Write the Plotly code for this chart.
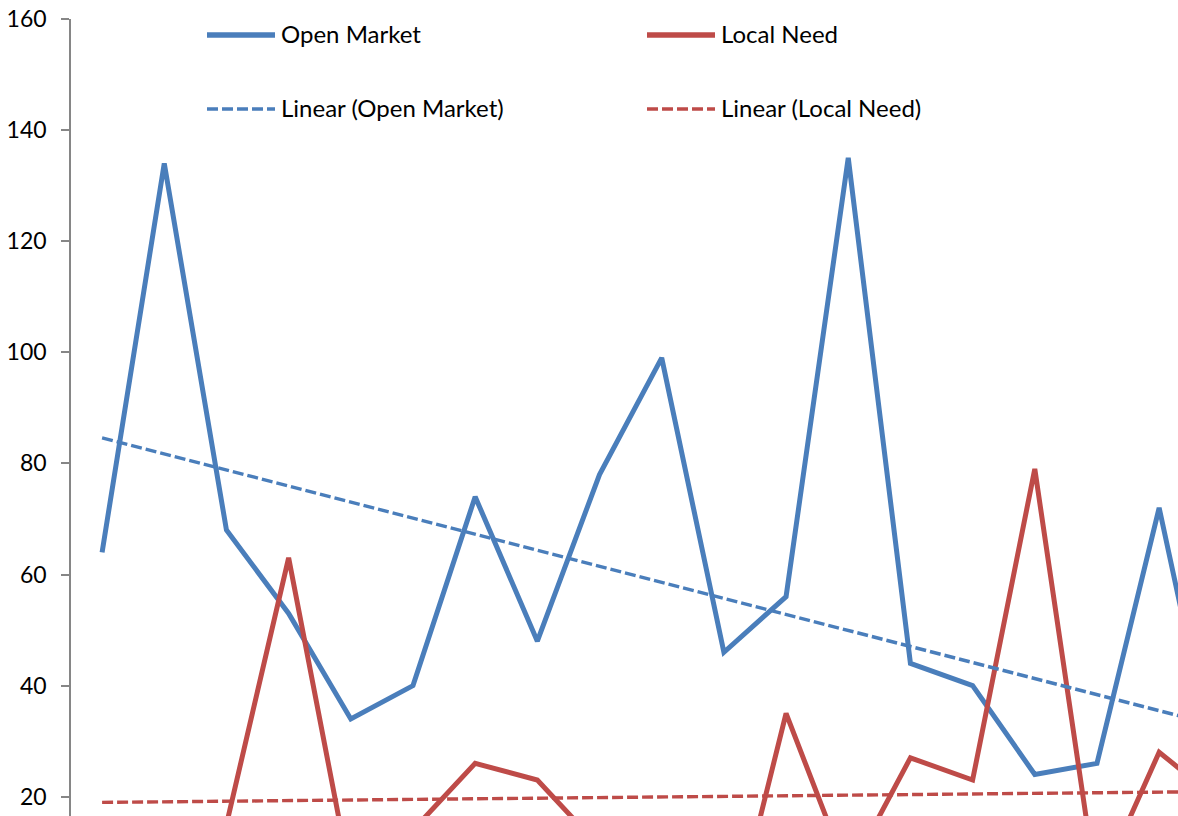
import plotly.graph_objects as go

# ---- data ----
periods = list(range(19))
open_market = [64, 134, 68, 53, 34, 40, 74, 48, 78, 99, 46, 56, 135, 44, 40, 24, 26, 72, 20]
local_need = [8, 10, 15, 63, 5, 14, 26, 23, 11, 5, -10, 35, 6, 27, 23, 79, 3, 28, 19]
trend_periods = [0, 18]
trend_open = [84.6, 32.6]
trend_local = [18.97, 20.93]

series_names = ["Open Market", "Local Need", "Linear (Open Market)", "Linear (Local Need)"]
BLUE = "#4A7EBB"
RED = "#BE4B48"
FONT = "Lato"

W, H = 1178, 816
ML, MT = 71, 19
PX_PER_UNIT = 5.555
plot_h = H - MT
y_top = 160
y_bottom = y_top - plot_h / PX_PER_UNIT
cat_w = 62.18
x_lo = -0.5
x_hi = (W - ML) / cat_w - 0.5

fig = go.Figure()
fig.add_trace(go.Scatter(x=periods, y=open_market, mode="lines", name=series_names[0],
                         line=dict(color=BLUE, width=5), showlegend=False))
fig.add_trace(go.Scatter(x=periods, y=local_need, mode="lines", name=series_names[1],
                         line=dict(color=RED, width=5), showlegend=False))
fig.add_trace(go.Scatter(x=trend_periods, y=trend_open, mode="lines", name=series_names[2],
                         line=dict(color=BLUE, width=3.4, dash="11px,4px"), showlegend=False))
fig.add_trace(go.Scatter(x=trend_periods, y=trend_local, mode="lines", name=series_names[3],
                         line=dict(color=RED, width=3.4, dash="11px,4px"), showlegend=False))

# ---- manual legend (pixel positions converted to paper coords) ----
def px(xp):
    return (xp - ML) / (W - ML)

def py(yp):
    return (H - yp) / plot_h

legend_items = [
    (207, 275, 35, BLUE, "solid", 5.5, series_names[0]),
    (647, 715, 35, RED, "solid", 5.5, series_names[1]),
    (207, 275, 109, BLUE, "11px,4px", 3.4, series_names[2]),
    (647, 715, 109, RED, "11px,4px", 3.4, series_names[3]),
]
for x0, x1, yy, col, dash, w, label in legend_items:
    fig.add_shape(type="line", xref="paper", yref="paper",
                  x0=px(x0), x1=px(x1), y0=py(yy), y1=py(yy),
                  line=dict(color=col, width=w, dash=dash))
    fig.add_annotation(xref="paper", yref="paper", x=px(x1 + 4), y=py(yy - 1.5),
                       text=label, showarrow=False, xanchor="left", yanchor="middle",
                       font=dict(family=FONT, size=24, color="#000000"))

fig.update_layout(
    width=W, height=H,
    margin=dict(l=ML, r=0, t=MT, b=0, autoexpand=False),
    paper_bgcolor="white", plot_bgcolor="white",
    font=dict(family=FONT, size=23, color="#000000"),
    showlegend=False,
    xaxis=dict(range=[x_lo, x_hi], visible=False, showgrid=False, zeroline=False),
    yaxis=dict(range=[y_bottom, y_top], tick0=0, dtick=20, showgrid=False, zeroline=False,
               showline=True, linecolor="#868686", linewidth=1.5,
               ticks="outside", ticklen=8, tickwidth=1.5, tickcolor="#868686",
               ticklabelstandoff=10,
               tickfont=dict(family=FONT, size=23, color="#000000")),
)

fig.write_html("out.html")
